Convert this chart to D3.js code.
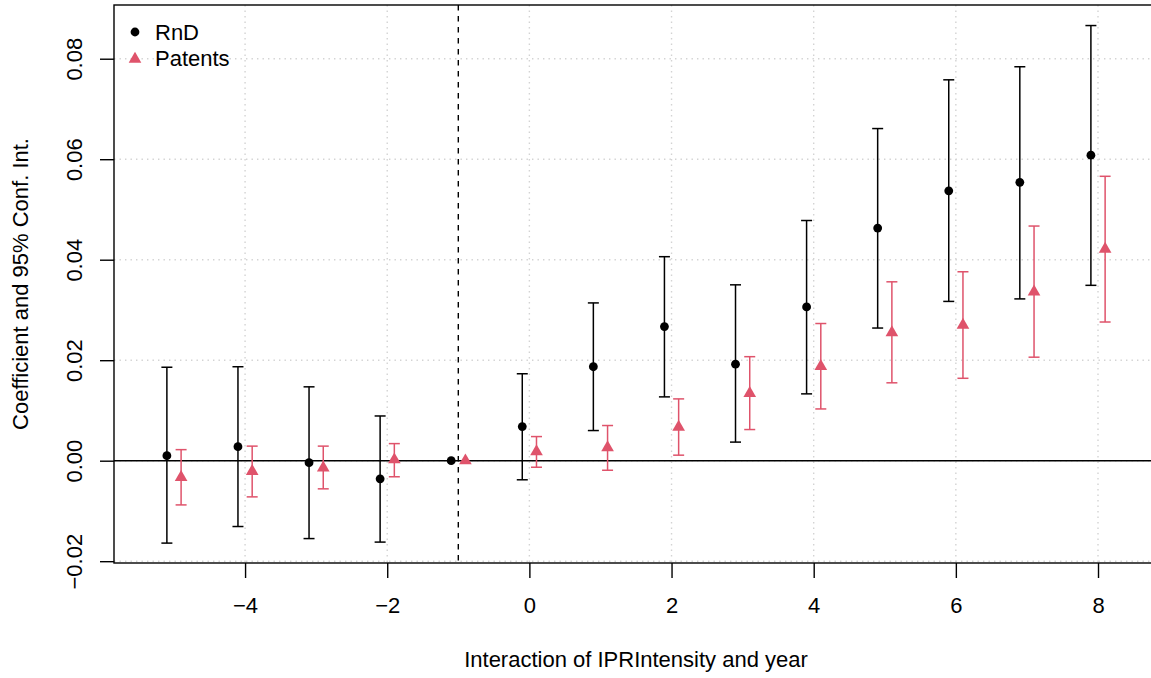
<!DOCTYPE html>
<html>
<head>
<meta charset="utf-8">
<script src="https://cdn.jsdelivr.net/npm/d3@7"></script>
<style>
  body { margin: 0; background: #fff; }
  svg { display: block; font-family: "Liberation Sans", Arial, Helvetica, sans-serif; }
</style>
</head>
<body>
<div id="chart"></div>
<script>
// event-time coefficients
var years  = [-5, -4, -3, -2, -1, 0, 1, 2, 3, 4, 5, 6, 7, 8];
var rndEst = [0.0010, 0.0028, -0.0004, -0.0036, 0, 0.0068, 0.0187, 0.0267, 0.0192, 0.0306, 0.0463, 0.0537, 0.0554, 0.0608];
var rndLo  = [-0.0164, -0.0131, -0.0155, -0.0162, 0, -0.0038, 0.0060, 0.0127, 0.0037, 0.0133, 0.0264, 0.0317, 0.0322, 0.0349];
var rndHi  = [0.0186, 0.0187, 0.0147, 0.0089, 0, 0.0173, 0.0314, 0.0406, 0.0350, 0.0478, 0.0661, 0.0758, 0.0784, 0.0866];
var patEst = [-0.0033, -0.0021, -0.0014, 0.0002, 0, 0.0018, 0.0026, 0.0067, 0.0134, 0.0188, 0.0255, 0.0270, 0.0336, 0.0421];
var patLo  = [-0.0088, -0.0072, -0.0056, -0.0032, 0, -0.0013, -0.0019, 0.0011, 0.0062, 0.0103, 0.0155, 0.0164, 0.0206, 0.0276];
var patHi  = [0.0022, 0.0029, 0.0029, 0.0034, 0, 0.0048, 0.0070, 0.0123, 0.0207, 0.0273, 0.0356, 0.0376, 0.0467, 0.0566];

var xTicks = [-4, -2, 0, 2, 4, 6, 8];
var yTicks = [-0.02, 0, 0.02, 0.04, 0.06, 0.08];
var seriesNames = ["RnD", "Patents"];
var refYear = -1;

chart('#chart');

function chart(id) {
	var width = 1151;
	var height = 678;
	var plot = { left: 114, right: 1158, top: 5, bottom: 563 };
	var red = "#DF536B";
	var fontSize = "22px";

	var svg = d3.select(id).append("svg")
		.attr("width", width)
		.attr("height", height);

	var x = d3.scaleLinear().domain([-5.844, 8.844]).range([plot.left, plot.right]);
	var y = d3.scaleLinear().domain([-0.02036, 0.09069]).range([plot.bottom, plot.top]);

	// dotted grid
	var grid = svg.append("g");
	grid.selectAll(".gx").data(xTicks).enter().append("line")
		.attr("x1", d => x(d)).attr("x2", d => x(d))
		.attr("y1", plot.top).attr("y2", plot.bottom);
	grid.selectAll(".gy").data(yTicks).enter().append("line")
		.attr("x1", plot.left).attr("x2", plot.right)
		.attr("y1", d => y(d)).attr("y2", d => y(d));
	grid.selectAll("line")
		.attr("stroke", "#D3D3D3")
		.attr("stroke-width", 1.4)
		.attr("stroke-dasharray", "1.4,4.1");

	// zero line and reference year
	svg.append("line")
		.attr("x1", plot.left).attr("x2", plot.right)
		.attr("y1", y(0)).attr("y2", y(0))
		.attr("stroke", "#000").attr("stroke-width", 1.4);
	svg.append("line")
		.attr("x1", x(refYear)).attr("x2", x(refYear))
		.attr("y1", plot.top).attr("y2", plot.bottom)
		.attr("stroke", "#000").attr("stroke-width", 1.4)
		.attr("stroke-dasharray", "5.5,5.5");

	var rnd = years.map((d, i) => ({ x: d - 0.1, est: rndEst[i], lo: rndLo[i], hi: rndHi[i] }));
	var pat = years.map((d, i) => ({ x: d + 0.1, est: patEst[i], lo: patLo[i], hi: patHi[i] }));

	drawBars(svg, rnd, x, y, "#000");
	drawBars(svg, pat, x, y, red);

	svg.append("g").selectAll("circle").data(rnd).enter().append("circle")
		.attr("cx", d => x(d.x)).attr("cy", d => y(d.est))
		.attr("r", 4.4).attr("fill", "#000");

	svg.append("g").selectAll("path").data(pat).enter().append("path")
		.attr("transform", d => "translate(" + x(d.x) + "," + y(d.est) + ")")
		.attr("d", triangle(4.7))
		.attr("fill", red);

	// box
	svg.append("rect")
		.attr("x", plot.left).attr("y", plot.top)
		.attr("width", plot.right - plot.left).attr("height", plot.bottom - plot.top)
		.attr("fill", "none").attr("stroke", "#000").attr("stroke-width", 1.4);

	// axes
	var xAxis = svg.append("g")
		.attr("transform", "translate(0," + plot.bottom + ")")
		.call(d3.axisBottom(x).tickValues(xTicks).tickSize(15).tickFormat(d3.format("d")));
	xAxis.selectAll("text").attr("y", 50).attr("dy", 0);

	var yAxis = svg.append("g")
		.attr("transform", "translate(" + plot.left + ",0)")
		.call(d3.axisLeft(y).tickValues(yTicks).tickSize(14).tickFormat(d3.format(".2f")));
	yAxis.selectAll("text")
		.attr("x", 0).attr("y", -32).attr("dy", 0)
		.attr("text-anchor", "middle")
		.attr("transform", "rotate(-90)");

	svg.selectAll(".domain").remove();
	svg.selectAll(".tick line").attr("stroke", "#000").attr("stroke-width", 1.4);
	svg.selectAll(".tick text")
		.attr("fill", "#000")
		.style("font-size", fontSize)
		.style("font-family", "'Liberation Sans', Arial, sans-serif");

	// axis titles
	svg.append("text")
		.attr("x", (plot.left + plot.right) / 2).attr("y", 667)
		.attr("text-anchor", "middle")
		.style("font-size", fontSize)
		.text("Interaction of IPRIntensity and year");

	svg.append("text")
		.attr("transform", "translate(28," + ((plot.top + plot.bottom) / 2) + ") rotate(-90)")
		.attr("text-anchor", "middle")
		.style("font-size", fontSize)
		.text("Coefficient and 95% Conf. Int.");

	// legend
	var legend = svg.append("g");
	legend.append("circle")
		.attr("cx", 135).attr("cy", 32).attr("r", 4.4).attr("fill", "#000");
	legend.append("path")
		.attr("transform", "translate(135,59)")
		.attr("d", triangle(4.7))
		.attr("fill", red);
	legend.selectAll("text").data(seriesNames).enter().append("text")
		.attr("x", 155).attr("y", (d, i) => 32 + i * 26)
		.attr("dy", "0.36em")
		.style("font-size", fontSize)
		.text(d => d);
}

function drawBars(svg, data, x, y, color) {
	var cap = 5.5;
	var g = svg.append("g")
		.attr("stroke", color)
		.attr("stroke-width", 1.5)
		.attr("fill", "none");

	var bars = g.selectAll("g").data(data.filter(d => d.hi !== d.lo)).enter().append("g");

	bars.append("line")
		.attr("x1", d => x(d.x)).attr("x2", d => x(d.x))
		.attr("y1", d => y(d.lo)).attr("y2", d => y(d.hi));
	bars.append("line")
		.attr("x1", d => x(d.x) - cap).attr("x2", d => x(d.x) + cap)
		.attr("y1", d => y(d.hi)).attr("y2", d => y(d.hi));
	bars.append("line")
		.attr("x1", d => x(d.x) - cap).attr("x2", d => x(d.x) + cap)
		.attr("y1", d => y(d.lo)).attr("y2", d => y(d.lo));
}

function triangle(r) {
	// same proportions as R's pch 17
	var top = r * 1.5551;
	var half = r * 1.3468;
	var base = r * 0.7776;
	return "M0," + (-top) + "L" + half + "," + base + "L" + (-half) + "," + base + "Z";
}
</script>
</body>
</html>
